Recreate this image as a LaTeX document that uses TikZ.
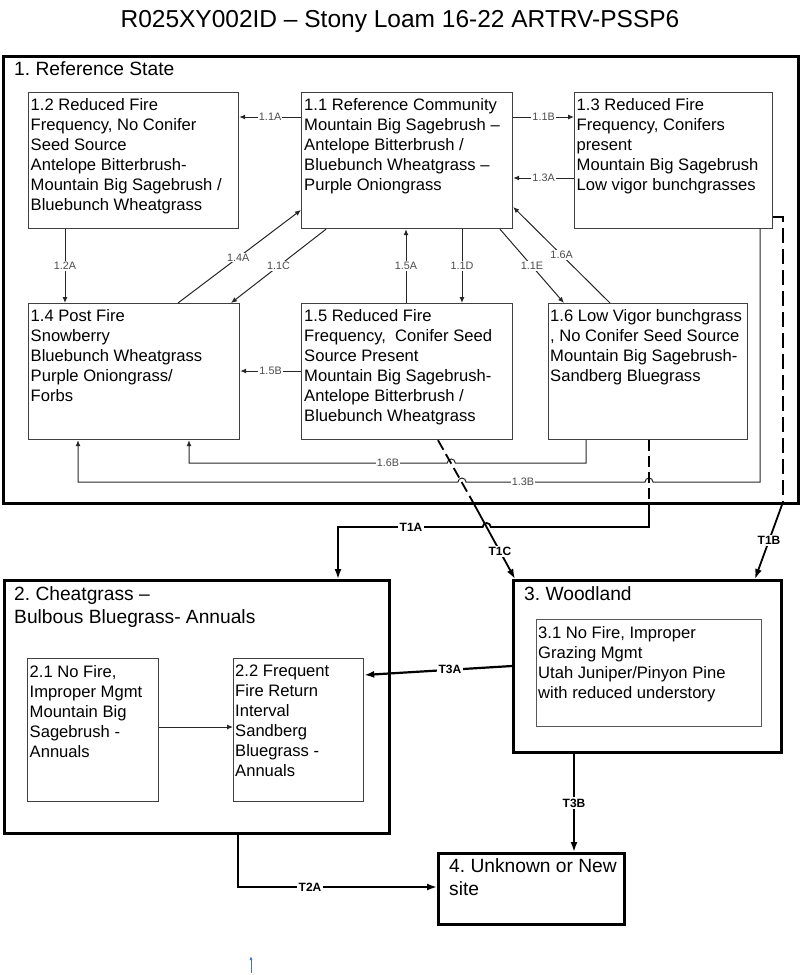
\documentclass[tikz,border=0pt]{standalone}
\usepackage{fontspec}
\setmainfont{Liberation Sans}
\usetikzlibrary{arrows.meta,calc}
\definecolor{blueptr}{RGB}{68,114,196}
\frenchspacing
\begin{document}
\begin{tikzpicture}[x=1pt,y=-1pt,
  inbox/.style={draw=black!75, line width=1.2pt, anchor=north west, inner sep=0pt},
  statebox/.style={draw=black, line width=3pt, anchor=north west, inner sep=0pt},
  boxtext/.style={anchor=north west, align=left, inner sep=0pt, font=\fontsize{16.6}{20}\selectfont},
  statetext/.style={anchor=north west, align=left, inner sep=0pt, font=\fontsize{19.2}{23.5}\selectfont},
  conn/.style={draw=black!85, line width=1pt},
  arr/.style={conn, -{Latex[length=6pt,width=5pt]}},
  tline/.style={draw=black, line width=1.8pt},
  tarr/.style={tline, -{Latex[length=10pt,width=7pt]}},
  tdash/.style={tline, dash pattern=on 11pt off 5pt},
  tdashlong/.style={tline, dash pattern=on 15pt off 6pt},
  lbl/.style={fill=white, inner sep=1pt, text=black!70, font=\fontsize{10.8}{12}\selectfont},
  tlbl/.style={fill=white, inner sep=1.5pt, font=\bfseries\fontsize{12}{14}\selectfont},
]
\useasboundingbox (0,0) rectangle (800,975);

% title
\node[font=\fontsize{24.5}{28}\selectfont, anchor=base, inner sep=0pt] (title) at (400,27) {R025XY002ID – Stony Loam 16-22 ARTRV-PSSP6};

% state boxes
\node[statebox, minimum width=795pt, minimum height=447pt] (S1) at (2,55) {};
\node[statebox, minimum width=385pt, minimum height=253pt] (S2) at (3,579) {};
\node[statebox, minimum width=268pt, minimum height=172pt] (S3) at (512,579) {};
\node[statebox, minimum width=186pt, minimum height=71pt] (S4) at (437,852) {};

\node[statetext] (t1) at (14,61) {1. Reference State};
\node[statetext] (t2) at (14,586) {2. Cheatgrass –\\Bulbous Bluegrass- Annuals};
\node[statetext] (t3) at (524,586) {3. Woodland};
\node[statetext] (t4) at (449,858) {4. Unknown or New\\site};

% community boxes
\node[inbox, minimum width=210pt, minimum height=136pt] (b12) at (28,92) {};
\node[inbox, minimum width=211pt, minimum height=136pt] (b11) at (301,92) {};
\node[inbox, minimum width=198pt, minimum height=136pt] (b13) at (574,92) {};
\node[inbox, minimum width=211pt, minimum height=136pt] (b14) at (28,303) {};
\node[inbox, minimum width=211pt, minimum height=136pt] (b15) at (301,303) {};
\node[inbox, minimum width=199pt, minimum height=136pt] (b16) at (548,303) {};
\node[inbox, minimum width=131pt, minimum height=143pt] (b21) at (27,658) {};
\node[inbox, minimum width=130pt, minimum height=143pt] (b22) at (233,658) {};
\node[inbox, draw=black!65, minimum width=225pt, minimum height=107pt] (b31) at (536,619) {};

\node[boxtext] (t12) at ($(b12.north west)+(2.5,6)$) {1.2 Reduced Fire\\Frequency, No Conifer\\Seed Source\\Antelope Bitterbrush-\\Mountain Big Sagebrush /\\Bluebunch Wheatgrass};
\node[boxtext] (t11) at ($(b11.north west)+(3,6)$) {1.1 Reference Community\\Mountain Big Sagebrush –\\Antelope Bitterbrush /\\Bluebunch Wheatgrass –\\Purple Oniongrass};
\node[boxtext] (t13) at ($(b13.north west)+(2.5,6)$) {1.3 Reduced Fire\\Frequency, Conifers\\present\\Mountain Big Sagebrush\\Low vigor bunchgrasses};
\node[boxtext] (t14) at ($(b14.north west)+(2.5,6)$) {1.4 Post Fire\\Snowberry\\Bluebunch Wheatgrass\\Purple Oniongrass/\\Forbs};
\node[boxtext] (t15) at ($(b15.north west)+(3,6)$) {1.5 Reduced Fire\\Frequency,\ \ Conifer Seed\\Source Present\\Mountain Big Sagebrush-\\Antelope Bitterbrush /\\Bluebunch Wheatgrass};
\node[boxtext] (t16) at ($(b16.north west)+(2,6)$) {1.6 Low Vigor bunchgrass\\, No Conifer Seed Source\\Mountain Big Sagebrush-\\Sandberg Bluegrass};
\node[boxtext] (t21) at ($(b21.north west)+(2.5,7)$) {2.1 No Fire,\\Improper Mgmt\\Mountain Big\\Sagebrush -\\Annuals};
\node[boxtext] (t22) at ($(b22.north west)+(2,7)$) {2.2 Frequent\\Fire Return\\Interval\\Sandberg\\Bluegrass -\\Annuals};
\node[boxtext] (t31) at ($(b31.north west)+(2,7)$) {3.1 No Fire, Improper\\Grazing Mgmt\\Utah Juniper/Pinyon Pine\\with reduced understory};

% transitions inside state 1
\draw[arr] (b11.west |- 0,117) -- node[lbl] (l11A) {1.1A} (b12.east |- 0,117);
\draw[arr] (b11.east |- 0,117) -- node[lbl] (l11B) {1.1B} (b13.west |- 0,117);
\draw[arr] (b13.west |- 0,178) -- node[lbl] (l13A) {1.3A} (b11.east |- 0,178);
\draw[arr] (b12.south -| 65,0) -- node[lbl] (l12A) {1.2A} (b14.north -| 65,0);
\draw[arr] (b14.north -| 178,0) -- node[lbl,pos=0.49] (l14A) {1.4A} (b11.west |- 0,210);
\draw[arr] (b11.south -| 326,0) -- node[lbl] (l11C) {1.1C} (b14.north -| 231,0);
\draw[arr] (b15.north -| 406,0) -- node[lbl] (l15A) {1.5A} (b11.south -| 406,0);
\draw[arr] (b11.south -| 462,0) -- node[lbl] (l11D) {1.1D} (b15.north -| 462,0);
\draw[arr] (b11.south -| 500,0) -- node[lbl] (l11E) {1.1E} (b16.north -| 564,0);
\draw[arr] (b16.north -| 610,0) -- node[lbl] (l16A) {1.6A} (b11.east |- 0,207);
\draw[arr] (b15.west |- 0,371) -- node[lbl] (l15B) {1.5B} (b14.east |- 0,371);
\draw[arr] (b16.south -| 586,0) -- (586,463) -- (455.3,463) arc[start angle=0,end angle=180,radius=4pt] -- (189,463) -- (b14.south -| 189,0);
\node[lbl] (l16B) at (388,463) {1.6B};
\draw[arr] (b13.south -| 760,0) -- (760,482) -- (653,482) arc[start angle=0,end angle=180,radius=4pt] -- (466,482) arc[start angle=0,end angle=180,radius=4pt] -- (78,482) -- (b14.south -| 78,0);
\node[lbl] (l13B) at (523,482) {1.3B};

% transitions between states
\coordinate (xB) at (783,502);
\draw[tdashlong] (b13.east |- 0,217) -- (783,217) -- (xB);
\draw[tarr] (xB) -- node[tlbl] (lT1B) {T1B} (S3.north -| 755,0);

\coordinate (xC) at (472.9,502);
\draw[tdash] (b15.south -| 438,0) -- (xC);
\draw[tarr] (xC) -- node[tlbl,pos=0.64] (lT1C) {T1C} (S3.north -| 515,0);

\coordinate (xA) at (649,502);
\draw[tdash] (b16.south -| 649,0) -- (xA);
\draw[tarr] (xA) -- (649,527) -- (490.7,527) arc[start angle=0,end angle=180,radius=4pt] -- (338,527) -- (S2.north -| 338,0);
\node[tlbl] (lT1A) at (411,527) {T1A};

\draw[arr] (b21.east |- 0,727) -- (b22.west |- 0,727);
\draw[tarr, line width=2.2pt] (S3.west |- 0,666) -- node[tlbl,pos=0.42] (lT3A) {T3A} (b22.east |- 0,675);
\draw[tarr] (S3.south -| 574,0) -- node[tlbl] (lT3B) {T3B} (S4.north -| 574,0);
\draw[tarr] (S2.south -| 238,0) -- (238,887) -- (S4.west |- 0,887);
\node[tlbl] (lT2A) at (310,887) {T2A};

% small blue pointer
\coordinate (bluA) at (251,973);
\coordinate (bluB) at (251,956);
\draw[draw=blueptr, line width=0.8pt, -{Latex[length=4pt,width=3pt]}] (bluA) -- (bluB);
\end{tikzpicture}
\end{document}
